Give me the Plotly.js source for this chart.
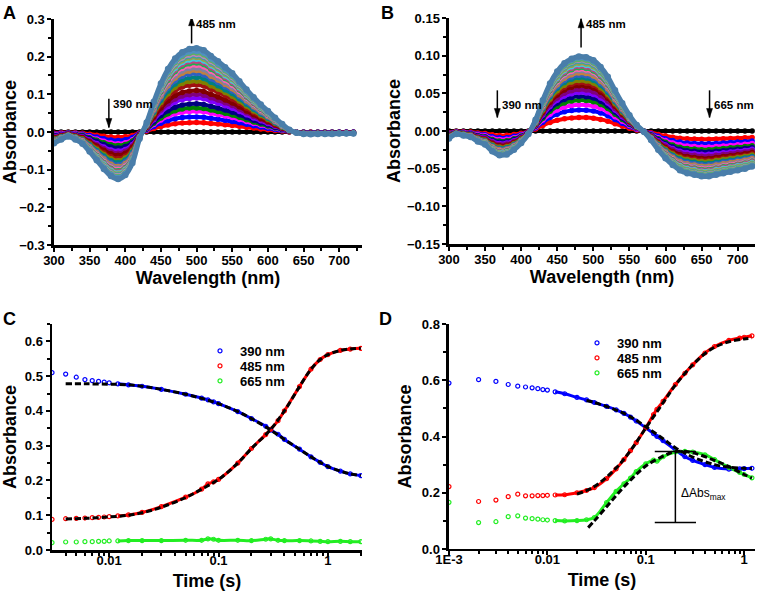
<!DOCTYPE html>
<html><head><meta charset="utf-8">
<script src="https://cdn.plot.ly/plotly-3.0.1.min.js"></script>
<style>html,body{margin:0;padding:0;background:#fff}#chart{width:757px;height:593px}</style>
</head><body><div id="chart"></div>
<script>
// ---------- Panel A / B : difference spectra ----------
const wavelengths = [300,310,320,330,340,350,360,370,380,390,400,410,420,430,440,450,460,470,480,490,500,510,520,530,540,550,560,570,580,590,600,610,620,630,640,650,660,670,680,690,700,710,720];
const finalSpectrumA = [-0.030,-0.020,-0.012,-0.020,-0.031,-0.052,-0.075,-0.098,-0.117,-0.125,-0.114,-0.082,-0.018,0.025,0.080,0.129,0.167,0.195,0.212,0.220,0.222,0.217,0.202,0.188,0.172,0.156,0.135,0.113,0.092,0.073,0.056,0.038,0.021,0.006,-0.002,-0.005,-0.006,-0.005,-0.005,-0.005,-0.004,-0.004,-0.004];
const peakValuesA = [0,0.025,0.040,0.055,0.064,0.075,0.090,0.100,0.110,0.125,0.135,0.145,0.155,0.163,0.170,0.177,0.183,0.188,0.193,0.198,0.202,0.206,0.210,0.214,0.222];
const finalSpectrumB = [-0.010,-0.004,-0.006,-0.008,-0.014,-0.018,-0.027,-0.032,-0.031,-0.025,-0.016,-0.004,0.015,0.041,0.063,0.079,0.090,0.096,0.099,0.098,0.094,0.085,0.072,0.054,0.037,0.021,0.008,-0.001,-0.012,-0.025,-0.036,-0.045,-0.052,-0.056,-0.058,-0.060,-0.060,-0.058,-0.056,-0.054,-0.052,-0.050,-0.047];
const peakValuesB = [0,0.018,0.028,0.035,0.041,0.046,0.051,0.055,0.060,0.064,0.067,0.071,0.074,0.077,0.080,0.082,0.084,0.086,0.088,0.090,0.092,0.094,0.095,0.097,0.099];
const curveColors = ['#000000','#FF0000','#0000FF','#FF00FF','#008000','#000080','#8000FF','#800080','#800000','#A01010','#808000','#008080','#3060C0','#C08040','#8080A0','#FF60B0','#20B050','#C04080','#40C8E0','#A0A040','#40A0A0','#C080C0','#60B060','#5090C0','#4A7EAA'];
const spectraLabelsA = ['390 nm','485 nm'];
const spectraLabelsB = ['390 nm','485 nm','665 nm'];

// ---------- Panel C : kinetics ----------
const timeC = [0.003,0.004,0.005,0.006,0.007,0.008,0.009,0.010,0.012,0.015,0.02,0.03,0.05,0.07,0.08,0.09,0.1,0.15,0.2,0.27,0.3,0.35,0.4,0.55,0.7,0.85,1.0,1.3,1.6,2.0];
const abs390C = [0.510,0.506,0.497,0.490,0.487,0.485,0.483,0.481,0.478,0.475,0.471,0.462,0.448,0.437,0.432,0.426,0.421,0.398,0.378,0.356,0.345,0.333,0.318,0.290,0.268,0.252,0.240,0.227,0.219,0.214];
const abs485C = [0.088,0.090,0.091,0.092,0.093,0.094,0.095,0.096,0.098,0.101,0.108,0.125,0.152,0.175,0.190,0.196,0.203,0.250,0.292,0.332,0.347,0.372,0.400,0.470,0.520,0.548,0.562,0.574,0.578,0.580];
const abs665C = [0.021,0.023,0.023,0.024,0.024,0.025,0.025,0.026,0.026,0.027,0.027,0.027,0.028,0.028,0.032,0.031,0.028,0.028,0.027,0.031,0.032,0.028,0.027,0.027,0.026,0.025,0.024,0.025,0.024,0.024];
const fitTimeC = [0.004,0.006,0.01,0.015,0.02,0.03,0.05,0.07,0.1,0.15,0.2,0.3,0.4,0.55,0.7,0.85,1.0,1.3,1.6,2.0];
const fit390C = [0.478,0.478,0.477,0.475,0.471,0.462,0.448,0.436,0.421,0.398,0.378,0.345,0.318,0.290,0.268,0.252,0.240,0.227,0.219,0.214];
const fit485C = [0.089,0.091,0.095,0.100,0.107,0.123,0.151,0.175,0.203,0.250,0.292,0.347,0.400,0.470,0.520,0.548,0.562,0.574,0.578,0.580];

// ---------- Panel D : kinetics ----------
const timeD = [0.001,0.002,0.003,0.004,0.005,0.006,0.007,0.008,0.009,0.01,0.012,0.015,0.02,0.025,0.03,0.04,0.05,0.06,0.07,0.08,0.1,0.12,0.13,0.15,0.2,0.25,0.3,0.4,0.5,0.7,0.9,1.0,1.2];
const abs390D = [0.590,0.602,0.596,0.585,0.579,0.576,0.573,0.570,0.567,0.565,0.559,0.552,0.539,0.530,0.521,0.507,0.495,0.482,0.469,0.455,0.431,0.410,0.400,0.385,0.352,0.328,0.315,0.300,0.290,0.284,0.285,0.286,0.287];
const abs485D = [0.222,0.169,0.174,0.186,0.195,0.189,0.189,0.190,0.190,0.191,0.192,0.193,0.200,0.208,0.218,0.250,0.285,0.318,0.350,0.378,0.431,0.478,0.497,0.525,0.585,0.625,0.655,0.697,0.720,0.742,0.750,0.753,0.758];
const abs665D = [0.166,0.094,0.097,0.115,0.118,0.110,0.108,0.106,0.104,0.103,0.101,0.100,0.101,0.104,0.112,0.165,0.205,0.232,0.252,0.275,0.303,0.316,0.312,0.328,0.345,0.347,0.345,0.335,0.318,0.290,0.272,0.265,0.253];
const fitTime390D = [0.025,0.03,0.05,0.07,0.1,0.15,0.2,0.3,0.5,0.7,1.0,1.2];
const fit390D = [0.528,0.521,0.494,0.470,0.435,0.392,0.360,0.327,0.300,0.291,0.287,0.286];
const fitTime485D = [0.02,0.03,0.05,0.07,0.1,0.15,0.2,0.3,0.4,0.5,0.7,1.0,1.2];
const fit485D = [0.195,0.222,0.288,0.350,0.430,0.520,0.583,0.655,0.695,0.717,0.737,0.747,0.750];
const fitTime665D = [0.026,0.03,0.04,0.05,0.07,0.1,0.15,0.2,0.3,0.5,0.7,1.0,1.2];
const fit665D = [0.076,0.100,0.150,0.190,0.245,0.295,0.330,0.347,0.342,0.315,0.293,0.265,0.252];
const seriesNames = ['390 nm','485 nm','665 nm'];
const seriesColors = ['#0000FF','#FF0000','#22EE22'];

// ---------- build ----------
const FONT = 'Arial, "Liberation Sans", sans-serif';
const traces = [];

function addSpectra(finalSpec, peaks, xa, ya) {
  const fmax = Math.max(...finalSpec);
  peaks.forEach((p, i) => {
    const last = i === peaks.length - 1;
    const s = p / fmax;
    traces.push({
      type: 'scatter', mode: 'lines+markers', x: wavelengths, y: finalSpec.map(v => v * s),
      xaxis: xa, yaxis: ya, showlegend: false, hoverinfo: 'skip',
      line: {color: curveColors[i], width: last ? 5 : 4, shape: 'spline'},
      marker: {color: curveColors[i], size: last ? 6.5 : 5.5}
    });
  });
}
addSpectra(finalSpectrumA, peakValuesA, 'x', 'y');
addSpectra(finalSpectrumB, peakValuesB, 'x2', 'y2');

function addKinetics(times, seriesList, fits, xa, ya, legendIds, denseFrom) {
  seriesList.forEach((vals, k) => {
    const idx = times.map((t, i) => i).filter(i => times[i] >= denseFrom);
    traces.push({
      type: 'scatter', mode: 'lines', x: idx.map(i => times[i]), y: idx.map(i => vals[i]),
      xaxis: xa, yaxis: ya, showlegend: false, hoverinfo: 'skip',
      line: {color: seriesColors[k], width: 3, shape: 'spline'}
    });
  });
  seriesList.forEach((vals, k) => {
    traces.push({
      type: 'scatter', mode: 'markers', x: times, y: vals, name: seriesNames[k],
      xaxis: xa, yaxis: ya, legend: legendIds[k], showlegend: true,
      marker: {symbol: 'circle-open', size: 4, color: seriesColors[k], line: {width: 1.2, color: seriesColors[k]}}
    });
  });
  fits.forEach(f => {
    traces.push({
      type: 'scatter', mode: 'lines', x: f[0], y: f[1], xaxis: xa, yaxis: ya,
      showlegend: false, hoverinfo: 'skip',
      line: {color: '#000', width: 3, dash: '6px,3px', shape: 'spline'}
    });
  });
}
addKinetics(timeC, [abs390C, abs485C, abs665C], [[fitTimeC, fit390C], [fitTimeC, fit485C]], 'x3', 'y3', ['legend', 'legend2', 'legend3'], 0.012);
addKinetics(timeD, [abs390D, abs485D, abs665D], [[fitTime390D, fit390D], [fitTime485D, fit485D], [fitTime665D, fit665D]], 'x4', 'y4', ['legend4', 'legend5', 'legend6'], 0.012);

function ax(opts) {
  const base = {
    showline: true, linecolor: '#000', linewidth: 2.5, mirror: false,
    ticks: 'outside', ticklen: 4, tickwidth: 2, tickcolor: '#000',
    showgrid: false, zeroline: false, fixedrange: true,
    tickfont: {family: FONT, size: 13, color: '#000', weight: 'bold'}
  };
  const o = Object.assign(base, opts);
  if (opts.titleText !== undefined) {
    o.title = {text: opts.titleText, standoff: opts.standoff, font: {family: FONT, size: 18, color: '#000', weight: 'bold'}};
    delete o.titleText; delete o.standoff;
  }
  return o;
}
const minorStyle = {ticks: 'outside', ticklen: 3, tickwidth: 2, tickcolor: '#000'};
const logMinorC = [0.004,0.005,0.006,0.007,0.008,0.009,0.02,0.03,0.04,0.05,0.06,0.07,0.08,0.09,0.2,0.3,0.4,0.5,0.6,0.7,0.8,0.9,2];
const logMinorD = [0.002,0.003,0.004,0.005,0.006,0.007,0.008,0.009,0.02,0.03,0.04,0.05,0.06,0.07,0.08,0.09,0.2,0.3,0.4,0.5,0.6,0.7,0.8,0.9];

const layout = {
  width: 757, height: 593, margin: {l: 0, r: 0, t: 0, b: 0},
  paper_bgcolor: '#fff', plot_bgcolor: 'rgba(0,0,0,0)',
  font: {family: FONT, color: '#000'},
  xaxis: ax({domain: [0.0713, 0.4782], range: [300, 732], tick0: 300, dtick: 50, anchor: 'y', ticklabelstandoff: -2,
    minor: Object.assign({dtick: 25}, minorStyle), titleText: 'Wavelength (nm)', standoff: 3}),
  yaxis: ax({domain: [0.5868, 0.968], range: [-0.3, 0.3], dtick: 0.1, tickformat: '.1f', anchor: 'x',
    minor: Object.assign({dtick: 0.05}, minorStyle), titleText: 'Absorbance', standoff: 6}),
  xaxis2: ax({domain: [0.5931, 0.9974], range: [300, 724], tick0: 300, dtick: 50, anchor: 'y2', ticklabelstandoff: -2,
    minor: Object.assign({dtick: 25}, minorStyle), titleText: 'Wavelength (nm)', standoff: 3}),
  yaxis2: ax({domain: [0.5885, 0.9696], range: [-0.15, 0.15], dtick: 0.05, tickformat: '.2f', anchor: 'x2',
    minor: Object.assign({dtick: 0.025}, minorStyle), titleText: 'Absorbance', standoff: 2}),
  xaxis3: ax({domain: [0.0687, 0.4782], type: 'log', range: [Math.log10(0.003), Math.log10(2.05)], anchor: 'y3',
    tickmode: 'array', tickvals: [0.01, 0.1, 1], ticktext: ['0.01', '0.1', '1'], ticklabelstandoff: -7,
    minor: Object.assign({tickmode: 'array', tickvals: logMinorC}, minorStyle), titleText: 'Time (s)', standoff: 8}),
  yaxis3: ax({domain: [0.0725, 0.4536], range: [0, 0.65], dtick: 0.1, tickformat: '.1f', anchor: 'x3',
    minor: Object.assign({dtick: 0.05}, minorStyle), titleText: 'Absorbance', standoff: 11}),
  xaxis4: ax({domain: [0.5931, 0.9974], type: 'log', range: [-3, Math.log10(1.29)], anchor: 'y4',
    tickmode: 'array', tickvals: [0.001, 0.01, 0.1, 1], ticktext: ['1E-3', '0.01', '0.1', '1'], ticklabelstandoff: -7,
    minor: Object.assign({tickmode: 'array', tickvals: logMinorD}, minorStyle), titleText: 'Time (s)', standoff: 8}),
  yaxis4: ax({domain: [0.0742, 0.4536], range: [0, 0.8], dtick: 0.2, tickformat: '.1f', anchor: 'x4',
    minor: Object.assign({dtick: 0.1}, minorStyle), titleText: 'Absorbance', standoff: 6}),
  annotations: [], shapes: []
};

// one-entry legends placed at each row
const legendRows = [['legend', 200, 351], ['legend2', 200, 366], ['legend3', 200, 381],
                    ['legend4', 577, 343], ['legend5', 577, 358], ['legend6', 577, 373]];
legendRows.forEach(r => {
  layout[r[0]] = {x: r[1] / 757, y: 1 - r[2] / 593, xanchor: 'left', yanchor: 'middle', bgcolor: 'rgba(0,0,0,0)',
    font: {family: FONT, size: 13, weight: 'bold', color: '#000'}, itemwidth: 30, borderwidth: 0};
});

// panel letters
[['A', 9, 13], ['B', 387, 13], ['C', 9, 319], ['D', 386, 319]].forEach(p => {
  layout.annotations.push({text: p[0], xref: 'paper', yref: 'paper', x: p[1] / 757, y: 1 - p[2] / 593,
    xanchor: 'center', yanchor: 'middle', showarrow: false, font: {family: FONT, size: 18, weight: 'bold', color: '#000'}});
});

// wavelength arrows (line + pixel-sized arrowhead)
function arrow(xr, yr, x, yHead, yTail, label, tx, ty) {
  const up = yHead > yTail;
  layout.shapes.push({type: 'line', xref: xr, yref: yr, x0: x, x1: x, y0: yTail, y1: yHead, line: {color: '#000', width: 1.5}});
  const h = up ? -9 : 9;
  layout.shapes.push({type: 'path', xref: xr, yref: yr, xsizemode: 'pixel', ysizemode: 'pixel', xanchor: x, yanchor: yHead,
    path: `M0,0 L-3,${h} L3,${h} Z`, fillcolor: '#000', line: {color: '#000', width: 0.5}});
  layout.annotations.push({xref: xr, yref: yr, x: tx, y: ty, text: label, showarrow: false, xanchor: 'left', yanchor: 'middle',
    font: {family: FONT, size: 11.5, weight: 'bold', color: '#000'}});
}
arrow('x', 'y', 377, 0.012, 0.088, spectraLabelsA[0], 380, 0.073);
arrow('x', 'y', 493, 0.306, 0.235, spectraLabelsA[1], 497, 0.287);
arrow('x2', 'y2', 367, 0.018, 0.054, spectraLabelsB[0], 370, 0.035);
arrow('x2', 'y2', 483, 0.149, 0.111, spectraLabelsB[1], 487, 0.142);
arrow('x2', 'y2', 661, 0.018, 0.054, spectraLabelsB[2], 665, 0.035);

// Delta Abs max bracket (from green data)
const dTop = Math.max(...fit665D);
const dBottom = Math.min(...abs665D);
const dT = fitTime665D[fit665D.indexOf(dTop)];
const bl = {color: '#000', width: 1.5};
layout.shapes.push({type: 'line', xref: 'x4', yref: 'y4', x0: dT, x1: dT, y0: dBottom, y1: dTop, line: bl});
layout.shapes.push({type: 'line', xref: 'x4', yref: 'y4', x0: dT / 1.62, x1: dT * 1.62, y0: dTop, y1: dTop, line: bl});
layout.shapes.push({type: 'line', xref: 'x4', yref: 'y4', x0: dT / 1.62, x1: dT * 1.62, y0: dBottom, y1: dBottom, line: bl});
layout.annotations.push({xref: 'x4', yref: 'y4', x: Math.log10(dT * 1.1), y: (dTop + dBottom) / 2 - 0.025,
  text: '\u0394Abs<sub>max</sub>', showarrow: false, xanchor: 'left', yanchor: 'middle',
  font: {family: FONT, size: 12, color: '#000'}});

Plotly.newPlot('chart', traces, layout, {staticPlot: true, displayModeBar: false});
</script>
</body></html>
